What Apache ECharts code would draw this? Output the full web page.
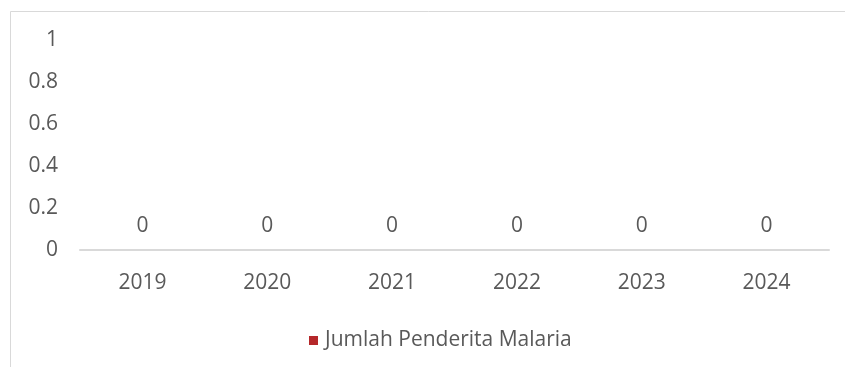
<!DOCTYPE html>
<html>
<head>
<meta charset="utf-8">
<script src="https://cdn.jsdelivr.net/npm/echarts@6/dist/echarts.min.js"></script>
<style>
  html, body { margin: 0; padding: 0; background: #ffffff; }
  #chart { width: 845px; height: 367px; }
</style>
</head>
<body>
<div id="chart"></div>
<script>
// Yearly malaria case counts
const years = ['2019', '2020', '2021', '2022', '2023', '2024'];
const cases = [0, 0, 0, 0, 0, 0];
const seriesName = 'Jumlah Penderita Malaria';

const textColor = '#595959';
const fontFamily = '"Open Sans", "Liberation Sans", sans-serif';
const fontSize = 21;

const chart = echarts.init(document.getElementById('chart'), null, { renderer: 'canvas' });

chart.setOption({
  backgroundColor: '#ffffff',
  animation: false,
  graphic: [{
    type: 'rect',
    shape: { x: 10.5, y: 11.5, width: 1200, height: 1200 },
    style: { fill: 'none', stroke: '#d9d9d9', lineWidth: 1 },
    silent: true
  }],
  grid: { left: 80, right: 16, top: 40, bottom: 117 },
  legend: {
    data: [seriesName],
    left: 304,
    top: 325,
    icon: 'rect',
    itemWidth: 9,
    itemHeight: 9,
    textStyle: { color: textColor, fontSize: fontSize, fontFamily: fontFamily, padding: [0, 0, 0, 2] }
  },
  xAxis: {
    type: 'category',
    data: years,
    axisLine: { show: true, lineStyle: { color: '#d9d9d9', width: 2 } },
    axisTick: { show: false },
    axisLabel: { color: textColor, fontSize: fontSize, fontFamily: fontFamily, margin: 23 }
  },
  yAxis: {
    type: 'value',
    min: 0,
    max: 1,
    interval: 0.2,
    axisLine: { show: false },
    axisTick: { show: false },
    splitLine: { show: false },
    axisLabel: { color: textColor, fontSize: fontSize, fontFamily: fontFamily, margin: 22 }
  },
  series: [{
    name: seriesName,
    type: 'bar',
    data: cases,
    barWidth: '50%',
    itemStyle: { color: '#b5282a' },
    label: {
      show: true,
      position: 'top',
      distance: 13,
      color: textColor,
      fontSize: fontSize,
      fontFamily: fontFamily
    }
  }]
});
</script>
</body>
</html>
